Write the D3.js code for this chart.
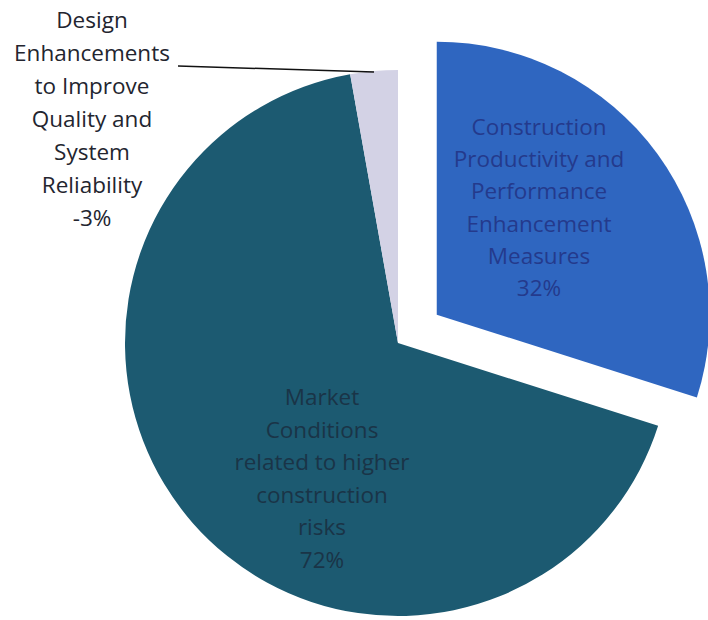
<!DOCTYPE html>
<html>
<head>
<meta charset="utf-8">
<script src="https://cdn.jsdelivr.net/npm/d3@7"></script>
<style>
  body { margin: 0; background: #fff; }
  svg { display: block; }
</style>
</head>
<body>
<div id="container"></div>
<script>
const config = {
    width: 708,
    height: 620,
    cx: 398,
    cy: 343,
    radius: 273,
    explode: 48,
}

// slices in clockwise order from 12 o'clock
const categories = [
    ['Construction', 'Productivity and', 'Performance', 'Enhancement', 'Measures'],
    ['Market', 'Conditions', 'related to higher', 'construction', 'risks'],
    ['Design', 'Enhancements', 'to Improve', 'Quality and', 'System', 'Reliability'],
]
const values = [32, 72, -3]
const valueLabels = ['32%', '72%', '-3%']
const colors = ['#2f66c0', '#1c5a71', '#d3d2e5']

const svg = d3.select('#container')
    .append('svg')
    .attr('width', config.width)
    .attr('height', config.height)

const pie = d3.pie()
    .sort(null)
    .value(d => Math.abs(d))

const arcs = pie(values)

const arc = d3.arc()
    .innerRadius(0)
    .outerRadius(config.radius)

const offset = (d, i) => {
    if (i !== 0) return [0, 0]
    const mid = (d.startAngle + d.endAngle) / 2
    return [Math.sin(mid) * config.explode, -Math.cos(mid) * config.explode]
}

const g = svg.append('g')
    .attr('transform', `translate(${config.cx}, ${config.cy})`)

g.selectAll('path')
    .data(arcs)
    .join('path')
    .attr('d', arc)
    .attr('transform', (d, i) => `translate(${offset(d, i)})`)
    .attr('fill', (d, i) => colors[i])

const addLabel = (lines, x, y0, step, color) => {
    svg.append('text')
        .attr('text-anchor', 'middle')
        .style('font-family', 'Open Sans, sans-serif')
        .style('font-size', '22.5px')
        .style('fill', color)
        .selectAll('tspan')
        .data(lines)
        .join('tspan')
        .attr('x', x)
        .attr('y', (_, i) => y0 + i * step)
        .text(d => d)
}

// label inside the blue slice
addLabel(categories[0].concat([valueLabels[0]]), 539, 135, 32.2, '#243a8c')
// label inside the teal slice
addLabel(categories[1].concat([valueLabels[1]]), 322, 405, 32.6, '#1a3447')
// outside label for the small slice
addLabel(categories[2].concat([valueLabels[2]]), 92, 28, 33, '#23252f')

const grayMid = (arcs[2].startAngle + arcs[2].endAngle) / 2
svg.append('line')
    .attr('x1', 178)
    .attr('y1', 66)
    .attr('x2', config.cx + Math.sin(grayMid) * config.radius)
    .attr('y2', config.cy - Math.cos(grayMid) * config.radius + 1)
    .attr('stroke', '#111')
    .attr('stroke-width', 1.5)
</script>
</body>
</html>
